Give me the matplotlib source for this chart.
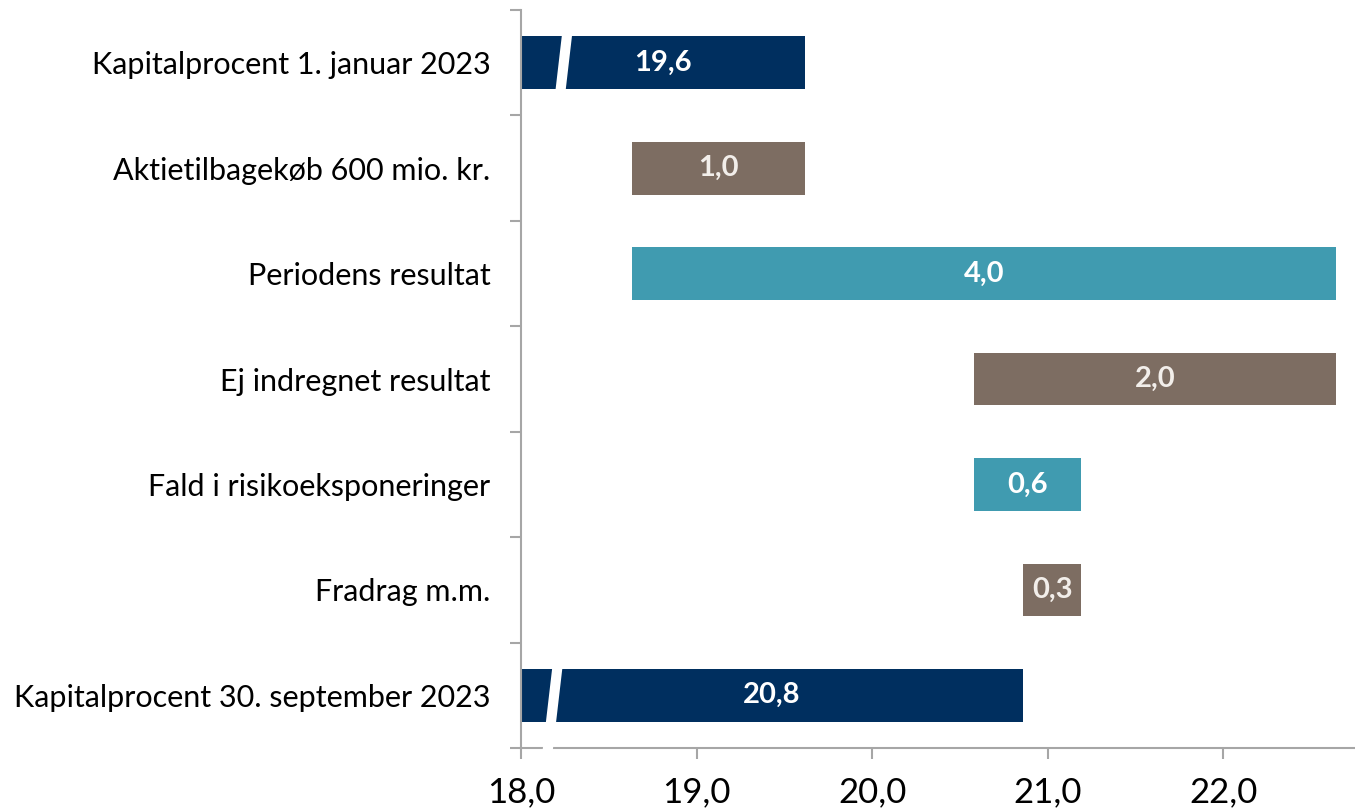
import matplotlib
matplotlib.use("Agg")
import matplotlib.pyplot as plt
from matplotlib.patches import Polygon
import numpy as np

# --- data ---------------------------------------------------------------
categories = [
    "Kapitalprocent 1. januar 2023",
    "Aktietilbagekøb 600 mio. kr.",
    "Periodens resultat",
    "Ej indregnet resultat",
    "Fald i risikoeksponeringer",
    "Fradrag m.m.",
    "Kapitalprocent 30. september 2023",
]
start_value = 19.62
changes = [-0.99, 4.01, -2.06, 0.61, -0.33]
end_value = 20.86
value_labels = ["19,6", "1,0", "4,0", "2,0", "0,6", "0,3", "20,8"]
x_ticks = [18.0, 19.0, 20.0, 21.0, 22.0]
x_min, x_max = 18.0, 22.75

NAVY = "#002f5f"
BROWN = "#7d6d62"
TEAL = "#409bb0"
AXIS_GRAY = "#a6a6a6"

plt.rcParams["font.family"] = ["Lato", "DejaVu Sans"]

# --- waterfall geometry ---------------------------------------------------
lefts, widths, colors, txt_colors = [x_min], [start_value - x_min], [NAVY], ["white"]
level = start_value
for c in changes:
    new = level + c
    lefts.append(min(level, new))
    widths.append(abs(c))
    colors.append(TEAL if c > 0 else BROWN)
    txt_colors.append("white" if c > 0 else "#f2eeea")
    level = new
lefts.append(x_min)
widths.append(end_value - x_min)
colors.append(NAVY)
txt_colors.append("white")

ypos = np.arange(len(categories))

fig = plt.figure(figsize=(13.55, 8.09), dpi=100)
ax = fig.add_axes([0.3845, 0.0754, 0.6155, 0.9122])

ax.barh(ypos, widths, left=lefts, height=0.5, color=colors, zorder=2)

for y, l, w, lab, tc in zip(ypos, lefts, widths, value_labels, txt_colors):
    ax.text(l + w / 2, y, lab, ha="center", va="center", color=tc,
            fontsize=21, fontweight="bold", zorder=4)

# break marks on the two total bars
def break_mark(xc, y, bottom_extra):
    w = 0.058
    s = 0.035
    top = y - 0.27
    bot = y + 0.25 + bottom_extra
    slope = s / 0.5
    pts = [(xc - w / 2 + s / 2, top), (xc + w / 2 + s / 2, top),
           (xc + w / 2 + s / 2 - slope * (bot - top), bot),
           (xc - w / 2 + s / 2 - slope * (bot - top), bot)]
    ax.add_patch(Polygon(pts, closed=True, facecolor="white", edgecolor="none",
                         zorder=3, clip_on=False))

break_mark(18.245, ypos[0], 0.0)
break_mark(18.19, ypos[-1], 0.33)

ax.set_xlim(x_min, x_max)
ax.set_ylim(len(categories) - 0.5, -0.5)

ax.set_xticks(x_ticks)
ax.set_xticklabels([f"{t:.1f}".replace(".", ",") for t in x_ticks], fontsize=25)
ax.tick_params(axis="x", length=8, width=1.5, color=AXIS_GRAY, pad=12)

ax.set_yticks(ypos)
ax.set_yticklabels(categories, fontsize=22)
ax.set_yticks(np.arange(-0.5, len(categories) + 0.5, 1.0), minor=True)
ax.tick_params(axis="y", which="major", length=0, pad=22)
ax.tick_params(axis="y", which="minor", length=8, width=1.5, color=AXIS_GRAY)

for side in ["top", "right"]:
    ax.spines[side].set_visible(False)
for side in ["left", "bottom"]:
    ax.spines[side].set_color(AXIS_GRAY)
    ax.spines[side].set_linewidth(1.5)

fig.savefig("out.png", dpi=100)
